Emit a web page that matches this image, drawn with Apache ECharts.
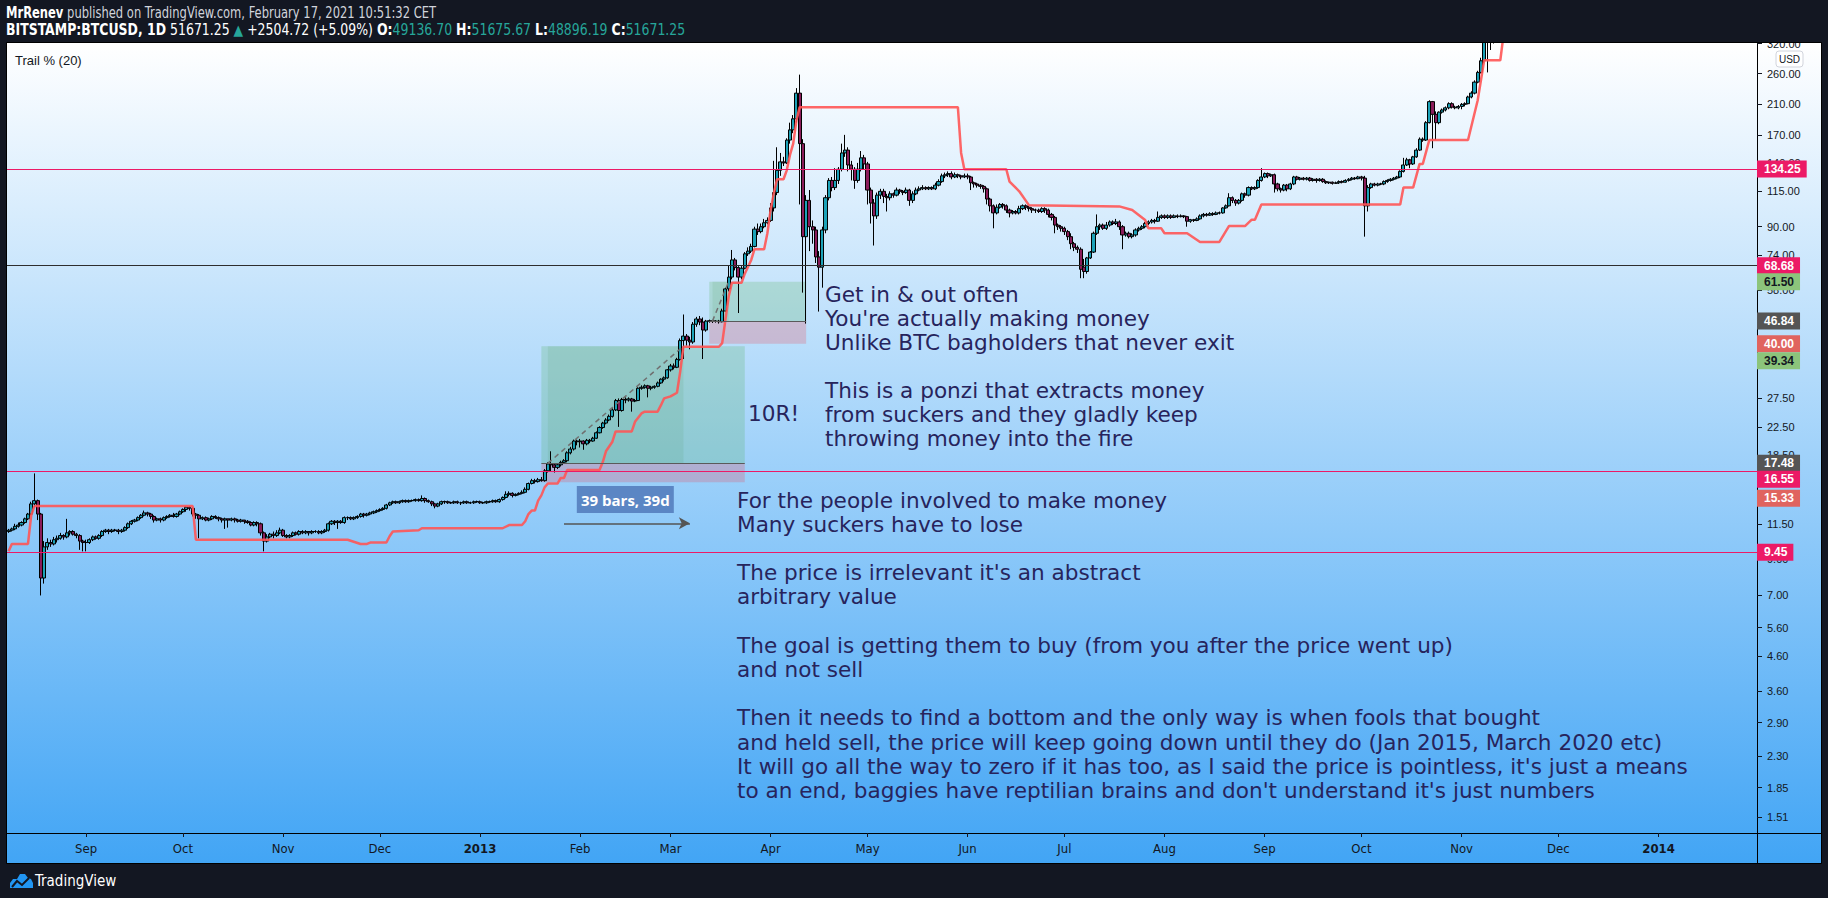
<!DOCTYPE html>
<html><head><meta charset="utf-8">
<script src="https://cdn.jsdelivr.net/npm/echarts@6/dist/echarts.min.js"></script>
<style>html,body{margin:0;padding:0;background:#131722;overflow:hidden}#c{width:1828px;height:898px}</style>
</head><body><div id="c"></div>
<script>
// ---------------- DATA ----------------
const START_DATE = [2012, 7, 8];      // first daily bar (UTC y, m0, d)
const DAY_COUNT = 542;                // bars on the time scale (to 2014-01-31)
const MONTH_NAMES = ['Jan','Feb','Mar','Apr','May','Jun','Jul','Aug','Sep','Oct','Nov','Dec'];
const PRICE_MIN = 1.351, PRICE_MAX = 321.2;
const PRICE_TICKS = [1.51,1.85,2.30,2.90,3.60,4.60,5.60,7.00,9.00,11.50,18.50,22.50,27.50,58.00,74.00,90.00,115.00,140.00,170.00,210.00,260.00,320.00];

// daily candles [open, close, low, high]
const aug12 = [[10.9,11.0,10.8,11.1],[11.0,11.1,10.9,11.2],[11.1,11.3,11.0,11.5],[11.3,11.4,11.2,11.6],[11.4,11.6,11.3,11.7],[11.6,11.9,11.5,12.0],[11.9,12.3,11.8,12.4],[12.3,13.2,12.2,13.4],[13.2,13.5,12.9,16.3],[13.5,12.3,11.8,13.6],[12.3,7.9,7.0,12.4],[7.9,9.8,7.6,10.2],[9.8,10.1,9.6,10.4],[10.1,10.0,9.8,10.3],[10.0,10.3,9.9,10.5],[10.3,10.4,10.1,10.6],[10.4,10.6,10.3,10.8],[10.6,10.5,10.3,10.7],[10.5,10.8,10.4,11.9],[10.8,10.9,10.6,11.0],[10.9,10.7,10.6,11.0],[10.7,10.6,10.4,10.8],[10.6,10.2,9.6,10.7],[10.2,10.1,9.5,10.3]];
const sep12 = [[10.1,10.1,9.5,10.3],[10.1,10.3,10.0,10.4],[10.3,10.5,10.2,10.6],[10.5,10.4,10.3,10.6],[10.4,10.6,10.3,10.7],[10.6,10.9,10.5,11.0],[10.9,11.0,10.8,11.1],[11.0,10.9,10.7,11.1],[10.9,11.0,10.8,11.1],[11.0,11.0,10.9,11.1],[11.0,10.9,10.7,11.1],[10.9,11.0,10.8,11.1],[11.0,11.2,10.9,11.3],[11.2,11.5,11.1,11.6],[11.5,11.7,11.4,11.8],[11.7,11.8,11.6,11.9],[11.8,12.0,11.7,12.1],[12.0,12.2,11.9,12.3],[12.2,12.4,12.1,12.6],[12.4,12.3,12.1,12.5],[12.3,12.1,11.9,12.4],[12.1,11.8,11.6,12.2],[11.8,11.9,11.7,12.0],[11.9,11.8,11.6,12.0],[11.8,12.0,11.7,12.1],[12.0,12.1,11.9,12.2],[12.1,12.2,12.0,12.3],[12.2,12.1,12.0,12.4],[12.1,12.3,12.0,12.4],[12.3,12.5,12.2,12.6]];
const oct12 = [[12.5,12.7,12.4,12.8],[12.7,12.9,12.5,13.0],[12.9,12.8,12.6,13.0],[12.8,12.3,12.1,12.9],[12.3,12.2,11.9,12.4],[12.2,11.9,10.4,12.3],[11.9,12.0,11.8,12.1],[12.0,11.8,11.7,12.1],[11.8,11.9,11.7,12.0],[11.9,12.1,11.8,12.2],[12.1,12.0,11.9,12.2],[12.0,11.9,11.7,12.1],[11.9,11.8,11.6,12.0],[11.8,11.9,11.1,12.0],[11.9,11.8,11.2,11.9],[11.8,11.9,11.7,12.0],[11.9,11.8,11.6,12.0],[11.8,11.7,11.6,11.9],[11.7,11.8,11.6,11.9],[11.8,11.7,11.5,11.8],[11.7,11.6,11.5,11.8],[11.6,11.4,11.3,11.7],[11.4,11.6,11.3,11.7],[11.6,11.5,11.3,11.7],[11.5,10.8,10.6,11.6],[10.8,10.2,9.5,10.9],[10.2,10.5,10.1,10.7],[10.5,10.7,10.4,10.8],[10.7,10.6,10.4,10.9],[10.6,10.8,10.5,11.0],[10.8,11.0,10.7,11.2]];
const nov12 = [[11.0,10.6,10.5,11.1],[10.6,10.5,10.4,10.7],[10.5,10.6,10.4,10.7],[10.6,10.8,10.5,10.9],[10.8,10.7,10.6,10.9],[10.7,10.9,10.6,11.0],[10.9,10.8,10.7,11.0],[10.8,10.9,10.7,11.0],[10.9,10.8,10.6,10.9],[10.8,10.9,10.7,11.0],[10.9,10.9,10.8,11.0],[10.9,10.8,10.7,11.0],[10.8,10.9,10.7,11.0],[10.9,11.0,10.8,11.1],[11.0,11.5,10.9,11.6],[11.5,11.7,11.4,11.8],[11.7,11.6,11.4,11.8],[11.6,11.7,11.1,11.8],[11.7,11.6,11.5,11.8],[11.6,12.0,11.5,12.1],[12.0,12.0,11.8,12.1],[12.0,11.9,11.8,12.1],[11.9,12.0,11.8,12.1],[12.0,12.1,11.9,12.2],[12.1,12.3,12.0,12.4],[12.3,12.2,12.0,12.4],[12.2,12.3,12.1,12.4],[12.3,12.4,12.2,12.5],[12.4,12.5,12.3,12.6],[12.5,12.6,12.4,12.7]];
const dec12 = [[12.6,12.7,12.5,12.8],[12.7,12.8,12.6,12.9],[12.8,13.1,12.7,13.2],[13.1,13.3,13.0,13.4],[13.3,13.4,13.2,13.5],[13.4,13.3,13.2,13.5],[13.3,13.4,13.2,13.5],[13.4,13.5,13.3,13.6],[13.5,13.4,13.3,13.6],[13.4,13.5,13.3,13.6],[13.5,13.5,13.4,13.6],[13.5,13.6,13.4,13.7],[13.6,13.5,13.4,13.7],[13.5,13.7,13.4,14.0],[13.7,13.5,13.3,13.8],[13.5,13.4,13.3,13.6],[13.4,13.2,13.0,13.5],[13.2,13.0,12.8,13.3],[13.0,13.2,12.9,13.3],[13.2,13.4,13.1,13.5],[13.4,13.4,13.2,13.5],[13.4,13.3,13.2,13.5],[13.3,13.3,13.2,13.4],[13.3,13.4,13.2,13.5],[13.4,13.3,13.2,13.5],[13.3,13.3,13.1,13.4],[13.3,13.4,13.2,13.5],[13.4,13.3,13.2,13.5],[13.3,13.3,13.2,13.4],[13.3,13.4,13.2,13.5],[13.4,13.4,13.3,13.5]];
const jan13 = [[13.4,13.3,13.2,13.5],[13.3,13.3,13.2,13.4],[13.3,13.4,13.2,13.5],[13.4,13.4,13.3,13.5],[13.4,13.5,13.3,13.6],[13.5,13.4,13.3,13.6],[13.4,13.6,13.3,13.7],[13.6,13.8,13.5,13.9],[13.8,14.1,13.7,14.4],[14.1,14.2,13.9,14.4],[14.2,14.0,13.8,14.3],[14.0,14.1,13.9,14.2],[14.1,14.2,14.0,14.3],[14.2,14.3,14.1,14.5],[14.3,14.6,14.2,14.8],[14.6,15.2,14.5,15.3],[15.2,15.5,15.1,15.7],[15.5,15.4,15.2,15.7],[15.4,15.6,15.3,15.8],[15.6,15.5,15.4,15.9],[15.5,16.6,15.4,16.8],[16.6,17.4,16.4,17.6],[17.4,17.3,16.5,19.0],[17.3,17.0,16.4,17.5],[17.0,17.3,16.8,17.5],[17.3,17.6,17.1,17.8],[17.6,17.8,17.4,18.0],[17.8,18.8,17.6,19.0],[18.8,19.3,18.6,19.6],[19.3,20.4,19.1,20.6],[20.4,20.3,19.8,20.6]];
const feb13 = [[20.3,20.4,19.5,20.7],[20.4,20.0,19.2,20.5],[20.0,20.5,19.8,20.7],[20.5,20.4,20.1,20.7],[20.4,20.8,20.3,21.0],[20.8,21.6,20.7,21.8],[21.6,22.4,21.5,22.6],[22.4,23.1,22.2,23.3],[23.1,23.6,22.9,23.9],[23.6,24.2,23.4,24.5],[24.2,25.3,24.0,25.6],[25.3,27.0,25.1,27.3],[27.0,25.2,22.5,27.4],[25.2,27.2,25.0,27.5],[27.2,27.1,26.5,27.6],[27.1,27.3,26.8,27.6],[27.3,26.9,25.0,27.5],[26.9,27.0,26.7,27.3],[27.0,29.4,26.9,29.6],[29.4,29.6,29.1,30.0],[29.6,29.9,29.3,30.2],[29.9,29.4,27.6,30.1],[29.4,29.6,29.0,29.9],[29.6,29.8,29.3,30.0],[29.8,30.5,29.6,30.8],[30.5,31.3,30.3,31.5],[31.3,31.6,30.8,31.9],[31.6,33.4,31.4,33.6]];
const mar13 = [[33.4,34.3,33.0,34.8],[34.3,34.0,33.5,34.9],[34.0,35.9,33.8,36.3],[35.9,40.9,35.6,41.5],[40.9,42.2,36.0,49.0],[42.2,41.0,39.5,42.8],[41.0,40.5,38.5,42.0],[40.5,45.8,40.0,46.5],[45.8,47.5,45.0,48.2],[47.5,46.5,45.5,48.5],[46.5,44.0,36.0,48.0],[44.0,46.8,43.5,47.2],[46.8,46.9,46.3,47.3],[46.9,46.7,46.2,47.2],[46.7,46.8,46.3,47.1],[46.8,46.6,46.0,47.2],[46.6,50.2,46.4,51.0],[50.2,58.5,50.0,59.0],[58.5,63.5,57.5,69.0],[63.5,71.5,62.5,76.6],[71.5,67.8,66.5,72.5],[67.8,63.5,49.5,68.5],[63.5,67.5,62.5,68.5],[67.5,74.6,67.0,75.5],[74.6,76.0,73.5,78.0],[76.0,78.5,75.0,80.0],[78.5,88.5,78.0,90.0],[88.5,87.0,85.0,92.0],[87.0,90.0,86.0,92.0],[90.0,92.5,89.0,95.0],[92.5,94.0,91.5,96.0]];
const apr13 = [[94,102.5,93,106],[102.5,114,100,142],[114,133,112,156],[133,141,128,150],[141,140,137,146],[140,164,139,166],[164,176,160,185],[176,190,172,195],[190,227,185,235],[227,160,105,258],[160,84,57,165],[84,108,46,112],[108,90,76,116],[90,88,80,94],[88,73,70,90],[73,68,50,76],[68,88,59,90],[88,110,86,112],[110,124,108,126],[124,118,115,127],[118,124,116,135],[124,134,121,136],[134,150,132,160],[150,153,146,170],[153,138,132,156],[138,134,124,142],[134,124,117,136],[124,134,122,140],[134,145,132,152],[145,139,134,148]];
const may13 = [[139,116,105,141],[116,106,92,118],[106,97,79,109],[97,112,95,114],[112,115,109,117],[115,111,106,117],[111,110,100,113],[110,113,108,115],[113,112,110,114],[112,116,111,118],[116,115,113,117],[115,114,112,116],[114,116,113,118],[116,108,104,117],[108,113,106,115],[113,116,112,118],[116,117,115,119],[117,118,116,120],[118,117,116,119],[117,118,116,119],[118,117,116,119],[117,120,116,122],[120,123,119,125],[123,128,122,130],[128,129,126,131],[129,130,127,132],[130,127,125,132],[127,129,126,131],[129,128,126,130],[128,127,125,129],[127,128,126,130]];
const jun13 = [[128,127,125,130],[127,122,116,128],[122,121,118,123],[121,120,118,122],[120,119,117,121],[119,117,114,120],[117,109,105,118],[109,104,100,110],[104,99,89,105],[99,103,98,105],[103,105,102,106],[105,104,102,106],[104,101,99,105],[101,99,96,102],[99,100,98,101],[100,99,98,101],[99,102,98,104],[102,104,101,105],[104,103,101,105],[103,102,100,104],[102,101,99,103],[101,101,99,102],[101,100,99,102],[100,102,99,103],[102,101,99,103],[101,98,96,102],[98,96,94,99],[96,91,86,97],[91,90,88,92],[90,89,87,91]];
const jul13 = [[89,87,85,90],[87,84,82,88],[84,80,77,86],[80,78,76,81],[78,77,75,79],[77,67,63,78],[68,66,63,72],[66,72.5,65,73],[72.5,75.5,72,76],[75.5,86,75,87],[86,90,85,98],[90,91,88,92],[91,89,88,92],[89,91,88,93],[91,93,90,94],[93,92,91,94],[92,93,91,95],[93,90,88,94],[90,85,77,91],[85,86,84,87],[86,84,83,87],[84,85,83,86],[85,88,84,89],[88,89,87,90],[89,90,88,91],[90,92,89,93],[92,93,91,94],[93,94,92,95],[94,93.5,92,95],[93.5,96,93,100],[96,97,95,98]];
const aug13 = [[97,96,95,98],[96,97,95,98],[97,96,95,98],[96,97,95.5,98],[97,96.5,95.5,98],[96.5,97,96,98],[97,96.5,95.5,97.5],[96.5,93.5,90,97],[93.5,94.5,92.5,95],[94.5,94,93,95],[94,95,93.5,96],[95,97,94.5,98],[97,98,96,99],[98,97.5,96.5,99],[97.5,98.5,97,99.5],[98.5,98,97,99.5],[98,99,97.5,100],[99,99,98,100],[99,102.5,98.5,103],[102.5,104,102,105],[104,110,103.5,113.5],[110,108,106,111],[108,106,104,109],[106,108,105,109],[108,113,107,114],[113,112,110,114],[112,118,111,119],[118,117,116,119],[117,118,116,119],[118,124,117,125],[124,127,123,135]];
const sep13 = [[127,130,126,131],[130,128,126,131],[128,129,127,130],[129,121,114,130],[121,117,115,122],[117,116,114,118],[116,120,115,121],[120,117,115,121],[117,121,116,122],[121,127,120,128],[127,125,124,128],[125,126,124,127],[126,125,124,127],[125,126,124,127],[126,124,123,127],[124,125,123,126],[125,124,122,126],[124,125,123,126],[125,123,122,126],[123,122,121,124],[122,122.5,121,123],[122.5,121.5,120.5,123],[121.5,122,121,123],[122,123,121,124],[123,122.5,121.5,124],[122.5,124,122,125],[124,125,123,126],[125,126,124,127],[126,125.5,124.5,127],[125.5,127,125,128]];
const oct13 = [[127,126,124,128],[126,104,84,128],[104,118,100,120],[118,121,117,122],[121,120,119,122],[120,121,119,122],[121,121,120,122],[121,123,120,124],[123,124,122,125],[124,125,123,126],[125,126,124,127],[126,127,125,128],[127,132,126,133],[132,138,131,145],[138,143,137,145],[143,139,135,144],[139,146,138,147],[146,153,145,155],[153,165,152,167],[165,164,162,167],[164,185,163,187],[185,214,184,216],[214,196,155,215],[196,185,164,200],[185,199,183,200],[199,202,197,204],[202,205,200,207],[205,211,203,213],[211,206,204,213],[206,205,203,208],[205,207,203,209]];
const nov13 = [[207,210,203,212],[210,211,207,213],[211,221,210,223],[221,227,219,230],[227,245,225,248],[245,262,243,265],[262,284,260,290],[284,330,280,340],[330,330,262,370],[330,335,306,350],[335,345,320,355],[345,360,335,370],[360,410,350,420],[410,420,395,440],[420,440,410,450]];

// Trail % (20) line: [bar index, price]
const TRAIL = [[0,9.5],[1,10.0],[6,10.0],[7,12.2],[8,13.0],[57,13.0],[58,10.3],[105,10.3],[109,10.0],[111,10.0],[112,10.1],[117,10.1],[118,10.55],[119,10.9],[127,11.0],[128,11.15],[153,11.15],[155,11.4],[159,11.4],[160,11.7],[161,12.3],[162,12.6],[163,12.6],[164,13.5],[165,14.0],[166,14.8],[167,15.2],[170,15.2],[171,15.8],[172,15.8],[173,16.7],[183,16.7],[184,17.6],[185,19.0],[187,20.3],[188,21.8],[193,21.8],[194,23.3],[196,24.7],[197,25.0],[201,25.0],[202,26.1],[203,27.4],[205,27.8],[207,28.5],[208,33.0],[209,39.2],[220,39.2],[221,40.2],[222,47.2],[223,55.4],[224,61.0],[227,61.0],[228,65.0],[230,71.5],[231,77.0],[234,77.0],[235,86.0],[236,101],[237,113.5],[238,125],[240,125],[241,133],[242,148],[243,160],[244,188],[245,206],[294,206],[295,150],[296,134],[309,134],[310,123],[313,115],[316,104.5],[344,103.6],[348,101],[352,94.3],[353,89],[357,89],[358,86],[365,86],[369,81],[375,81],[378,90.5],[383,90.5],[385,94.5],[386,94.5],[388,105],[431,105],[432,118],[435,118],[437,139],[438,139],[440,164],[452,164],[455,216],[457,285],[462,285],[463,340]];

// horizontal levels
const PINK_LEVELS = [134.25, 16.55, 9.45];
const DARK_LEVELS = [68.68];
// long position tools: [entry, target, stop]
const POS1_PRICES = [17.48, 39.34, 15.33];
const POS1_BARS = [165, 228];
const POS1_FILLED_BARS = [167, 209];
const POS2_PRICES = [46.84, 61.50, 40.00];
const POS2_BARS = [217, 247];
const POS2_FILLED_BARS = [218, 223];
// date range measure
const RANGE_BARS = [172, 211];
const RANGE_PRICE = 11.54;
const RANGE_LABEL_AT = [191, 13.6];
const RANGE_LABEL = '39 bars, 39d';

const NOTE_A = ['Get in & out often', "You're actually making money", 'Unlike BTC bagholders that never exit', '', 'This is a ponzi that extracts money', 'from suckers and they gladly keep', 'throwing money into the fire'];
const NOTE_B = ['For the people involved to make money', 'Many suckers have to lose', '', "The price is irrelevant it's an abstract", 'arbitrary value', '', 'The goal is getting them to buy (from you after the price went up)', 'and not sell', '', 'Then it needs to find a bottom and the only way is when fools that bought', 'and held sell, the price will keep going down until they do (Jan 2015, March 2020 etc)', "It will go all the way to zero if it has too, as I said the price is pointless, it's just a means", "to an end, baggies have reptilian brains and don't understand it's just numbers"];
const NOTE_R = '10R!';

// ---------------- BUILD ----------------
const CANDLES = [].concat(aug12, sep12, oct12, nov12, dec12, jan13, feb13, mar13, apr13, may13, jun13, jul13, aug13, sep13, oct13, nov13);
const DATES = [];
(function(){ const t0 = Date.UTC(START_DATE[0], START_DATE[1], START_DATE[2]);
  for (let i = 0; i < DAY_COUNT; i++) DATES.push(new Date(t0 + i * 86400000).toISOString().slice(0, 10)); })();

const isMonthStart = (idx, val) => val.slice(8) === '01';
const fmt2 = p => Number(p.value).toFixed(2);
const tickFmt = v => { for (const t of PRICE_TICKS) if (Math.abs(Math.log(t) - v) < 1e-6) return t.toFixed(2); return ''; };

const PINK = '#ec1a66', GREEN_TAG = '#8cc47b', GRAY_TAG = '#555555', RED_TAG = '#e0645f';
const NARROW = "'Liberation Sans Narrow','DejaVu Sans Condensed','Liberation Sans',sans-serif";
const NOTE_COLOR = '#27245c';
const hiddenLine = () => ({ color: 'rgba(0,0,0,0)', width: 1, type: 'solid', opacity: 1 });
const pinkLine = () => ({ color: PINK, width: 1.2, type: 'solid', opacity: 1 });
const darkLine = () => ({ color: '#2e2e2e', width: 1, type: 'solid', opacity: 1 });

function tag(v, bg, fg, dy, lineStyle) {
  return { yAxis: v, lineStyle: lineStyle || hiddenLine(),
    label: { show: true, position: 'end', distance: 0, formatter: fmt2, color: fg, backgroundColor: bg, opacity: 1,
      fontSize: 12, fontWeight: 'bold', fontFamily: 'Liberation Sans', padding: [3, 6, 2, 7], lineHeight: 12, offset: [0, dy || 0] } };
}

const chart = echarts.init(document.getElementById('c'), null, { renderer: 'svg', width: 1828, height: 898 });

const profitCol = 'rgba(76,175,80,0.22)', profitDark = 'rgba(56,142,60,0.10)', stopCol = 'rgba(242,54,69,0.22)';

chart.setOption({
  animation: false,
  backgroundColor: '#131722',
  grid: { left: 7, top: 43, width: 1750, height: 790, containLabel: false },
  xAxis: {
    type: 'category', data: DATES, boundaryGap: true,
    axisLine: { show: true, lineStyle: { color: '#000', width: 1 } },
    axisTick: { show: true, interval: isMonthStart, alignWithLabel: true, length: 4, lineStyle: { color: '#131722' } },
    axisLabel: { interval: isMonthStart, margin: 9, color: '#131722', fontSize: 13, fontFamily: NARROW,
      formatter: v => { const m = +v.slice(5, 7); return m === 1 ? '{y|' + v.slice(0, 4) + '}' : MONTH_NAMES[m - 1]; },
      rich: { y: { fontWeight: 'bold', fontSize: 13, fontFamily: NARROW, color: '#131722' } } },
    splitLine: { show: false }
  },
  yAxis: [
    { type: 'log', logBase: 10, min: PRICE_MIN, max: PRICE_MAX, position: 'left',
      axisLine: { show: false }, axisTick: { show: false }, axisLabel: { show: false }, splitLine: { show: false } },
    { type: 'value', min: Math.log(PRICE_MIN), max: Math.log(PRICE_MAX), position: 'right',
      axisLine: { show: true, lineStyle: { color: '#000', width: 1 } },
      axisTick: { show: true, customValues: PRICE_TICKS.map(Math.log), length: 5, lineStyle: { color: '#131722' } },
      axisLabel: { show: true, customValues: PRICE_TICKS.map(Math.log), formatter: tickFmt, margin: 10,
        color: '#131722', fontSize: 11, fontFamily: 'Liberation Sans' },
      splitLine: { show: false } }
  ],
  series: [
    { // position tool boxes
      type: 'line', data: [], yAxisIndex: 0, z: 1, silent: true,
      markArea: { silent: true, data: [
        [{ xAxis: POS1_BARS[0], yAxis: POS1_PRICES[0], itemStyle: { color: profitCol } }, { xAxis: POS1_BARS[1], yAxis: POS1_PRICES[1] }],
        [{ xAxis: POS1_FILLED_BARS[0], yAxis: POS1_PRICES[0], itemStyle: { color: profitDark } }, { xAxis: POS1_FILLED_BARS[1], yAxis: POS1_PRICES[1] }],
        [{ xAxis: POS1_BARS[0], yAxis: POS1_PRICES[2], itemStyle: { color: stopCol } }, { xAxis: POS1_BARS[1], yAxis: POS1_PRICES[0] }],
        [{ xAxis: POS2_BARS[0], yAxis: POS2_PRICES[0], itemStyle: { color: profitCol } }, { xAxis: POS2_BARS[1], yAxis: POS2_PRICES[1] }],
        [{ xAxis: POS2_FILLED_BARS[0], yAxis: POS2_PRICES[0], itemStyle: { color: profitDark } }, { xAxis: POS2_FILLED_BARS[1], yAxis: POS2_PRICES[1] }],
        [{ xAxis: POS2_BARS[0], yAxis: POS2_PRICES[2], itemStyle: { color: stopCol } }, { xAxis: POS2_BARS[1], yAxis: POS2_PRICES[0] }]
      ] },
      markLine: { silent: true, symbol: 'none', label: { show: false }, data: [
        [{ coord: [POS1_BARS[0], POS1_PRICES[0]], lineStyle: { color: '#5a5a5a', width: 1, type: 'solid' } }, { coord: [POS1_BARS[1], POS1_PRICES[0]] }],
        [{ coord: [POS2_BARS[0], POS2_PRICES[0]], lineStyle: { color: '#5a5a5a', width: 1, type: 'solid' } }, { coord: [POS2_BARS[1], POS2_PRICES[0]] }],
        [{ coord: [POS1_FILLED_BARS[0], POS1_PRICES[0]], lineStyle: { color: '#707070', width: 1.5, type: [5, 4] } }, { coord: [POS1_FILLED_BARS[1], POS1_PRICES[1]] }],
        [{ coord: [POS2_FILLED_BARS[0], POS2_PRICES[0]], lineStyle: { color: '#707070', width: 1.5, type: [5, 4] } }, { coord: [POS2_FILLED_BARS[1], POS2_PRICES[1]] }]
      ] }
    },
    { name: 'BTCUSD', type: 'candlestick', data: CANDLES, yAxisIndex: 0, z: 3, barWidth: 3.6, clip: true,
      itemStyle: { color: '#1ca2b8', color0: '#8a1c5a', borderColor: '#000', borderColor0: '#000', borderWidth: 1 } },
    { name: 'Trail % (20)', type: 'line', data: TRAIL, yAxisIndex: 0, z: 4, showSymbol: false, symbol: 'none', clip: true,
      lineStyle: { color: '#ff5555', width: 2.5, opacity: 0.9 } },
    { // levels, range tool, tags
      type: 'line', data: [], yAxisIndex: 0, z: 6, silent: true,
      markLine: { silent: true, symbol: 'none', precision: 2, data: [
        tag(PINK_LEVELS[0], PINK, '#fff', 0, pinkLine()),
        tag(DARK_LEVELS[0], PINK, '#fff', 0, darkLine()),
        tag(POS2_PRICES[1], GREEN_TAG, '#131722', 0),
        tag(POS2_PRICES[0], GRAY_TAG, '#fff', 0),
        tag(POS2_PRICES[2], RED_TAG, '#fff', 0),
        tag(POS1_PRICES[1], GREEN_TAG, '#131722', 14.5),
        tag(POS1_PRICES[0], GRAY_TAG, '#fff', 0),
        tag(PINK_LEVELS[1], PINK, '#fff', 8, pinkLine()),
        tag(POS1_PRICES[2], RED_TAG, '#fff', 16),
        tag(PINK_LEVELS[2], PINK, '#fff', 0, pinkLine()),
        [{ coord: [RANGE_BARS[0], RANGE_PRICE], symbol: 'none', lineStyle: { color: '#555', width: 1.5, type: 'solid', opacity: 1 }, label: { show: false } },
         { coord: [RANGE_BARS[1], RANGE_PRICE], symbol: 'arrow', symbolSize: [9, 11] }]
      ] },
      markPoint: { silent: true, data: [
        { coord: RANGE_LABEL_AT, symbol: 'rect', symbolSize: [97, 27], itemStyle: { color: '#5b86c4' },
          label: { show: true, position: 'inside', formatter: RANGE_LABEL, color: '#fff', fontSize: 15, fontWeight: 'bold', fontFamily: 'Open Sans' } }
      ] }
    }
  ],
  graphic: [
    { type: 'rect', z: -10, silent: true, shape: { x: 7, y: 43, width: 1814, height: 820 },
      style: { fill: new echarts.graphic.LinearGradient(0, 0, 0, 1, [{ offset: 0, color: '#ffffff' }, { offset: 1, color: '#42a5f5' }]) } },
    { type: 'rect', z: 100, silent: true, shape: { x: 0, y: 0, width: 1828, height: 43 }, style: { fill: '#131722' } },
    { type: 'rect', z: 100, silent: true, shape: { x: 0, y: 863, width: 1828, height: 35 }, style: { fill: '#131722' } },
    { type: 'rect', z: 100, silent: true, shape: { x: 1821, y: 0, width: 7, height: 898 }, style: { fill: '#131722' } },
    { type: 'line', z: 50, silent: true, shape: { x1: 1757.5, y1: 833, x2: 1757.5, y2: 863 }, style: { stroke: '#000', lineWidth: 1 } },
    { type: 'line', z: 50, silent: true, shape: { x1: 1757, y1: 833.5, x2: 1821, y2: 833.5 }, style: { stroke: '#000', lineWidth: 1 } },
    { type: 'rect', z: 101, silent: true, shape: { x: 6.5, y: 42.5, width: 1815, height: 821 }, style: { fill: 'none', stroke: '#000', lineWidth: 1 } },
    // header
    { type: 'text', z: 110, x: 6, y: 13, scaleX: 0.855, silent: true, style: {
      text: '{b|MrRenev} published on TradingView.com, February 17, 2021 10:51:32 CET',
      fill: '#d1d4dc', fontSize: 15, fontFamily: NARROW, verticalAlign: 'middle',
      rich: { b: { fill: '#ffffff', fontWeight: 'bold', fontSize: 15, fontFamily: NARROW } } } },
    { type: 'text', z: 110, x: 6, y: 30, scaleX: 0.925, silent: true, style: {
      text: '{b|BITSTAMP:BTCUSD, 1D} 51671.25 {g|\u25B2} +2504.72 (+5.09%) {b|O:}{g|49136.70} {b|H:}{g|51675.67} {b|L:}{g|48896.19} {b|C:}{g|51671.25}',
      fill: '#ffffff', fontSize: 15, fontFamily: NARROW, verticalAlign: 'middle',
      rich: { b: { fill: '#ffffff', fontWeight: 'bold', fontSize: 15, fontFamily: NARROW }, g: { fill: '#26a69a', fontSize: 15, fontFamily: NARROW } } } },
    // legend
    { type: 'text', z: 20, x: 15, y: 60, silent: true, style: { text: 'Trail % (20)', fill: '#131722', fontSize: 13, fontFamily: 'Liberation Sans', verticalAlign: 'middle' } },
    // currency box
    { type: 'rect', z: 20, silent: true, shape: { x: 1776, y: 51, width: 27, height: 16, r: 3 }, style: { fill: '#ffffff', stroke: '#d1d4dc', lineWidth: 1 } },
    { type: 'text', z: 21, x: 1789.5, y: 59, silent: true, style: { text: 'USD', fill: '#131722', fontSize: 10, fontFamily: 'Liberation Sans', align: 'center', verticalAlign: 'middle' } },
    // notes
    { type: 'text', z: 20, x: 825, y: 282, silent: true, style: { text: NOTE_A.join('\n'), fill: NOTE_COLOR, fontSize: 21.6, fontFamily: 'DejaVu Sans', lineHeight: 24 } },
    { type: 'text', z: 20, x: 737, y: 488, silent: true, style: { text: NOTE_B.join('\n'), fill: NOTE_COLOR, fontSize: 21.6, fontFamily: 'DejaVu Sans', lineHeight: 24.2 } },
    { type: 'text', z: 20, x: 748, y: 401, silent: true, style: { text: NOTE_R, fill: NOTE_COLOR, fontSize: 21.6, fontFamily: 'DejaVu Sans', lineHeight: 24 } },
    // footer logo
    { type: 'polygon', z: 110, silent: true, shape: { points: [[10,888],[10,883],[13,879],[17,879],[20,874],[25,874],[28,878],[31,879],[33,883],[33,888]] }, style: { fill: '#2196f3' } },
    { type: 'polyline', z: 111, silent: true, shape: { points: [[12, 887], [17, 881], [22, 885], [29, 878]] }, style: { stroke: '#131722', lineWidth: 2, fill: 'none' } },
    { type: 'text', z: 110, x: 35, y: 881, silent: true, style: { text: 'TradingView', fill: '#ffffff', fontSize: 15, fontFamily: NARROW, verticalAlign: 'middle' } }
  ]
});
</script>
</body></html>
